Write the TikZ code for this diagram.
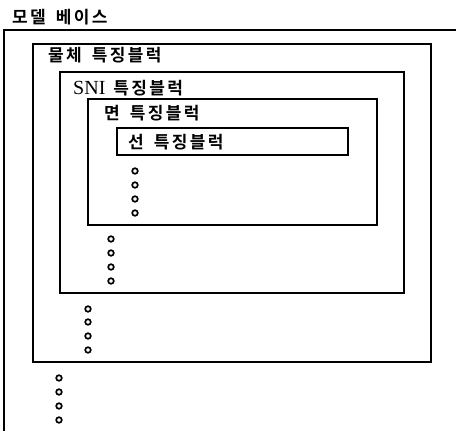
\documentclass[tikz,border=0pt]{standalone}
\usepackage{fontspec}
\setmainfont{Liberation Serif}
\newfontfamily\kr{Noto Sans CJK KR Bold}[LetterSpace=14]
\newcommand\wgap{\hspace{10pt}}
\tikzset{
  box/.style={draw=black, line width=1.3pt},
  lbl/.style={anchor=west, inner sep=0pt, font=\kr\fontsize{17}{17}\selectfont},
  dot/.style={draw=black, line width=1.7pt}
}
\begin{document}
\begin{tikzpicture}[x=1pt,y=-1pt]
\useasboundingbox (0,0) rectangle (456,431);
% outer (model base), cut off at right and bottom
\coordinate (oTR) at (456,30);
\coordinate (oTL) at (4,30);
\coordinate (oBL) at (4,431);
\draw[box] (oTR) -- (oTL) -- (oBL);
\node[lbl] (t0) at (12,17) {모델\wgap 베이스};
% object feature block
\draw[box] (33,44) rectangle (431,362);
\node[lbl] (t1) at (48,55) {물체\wgap 특징블럭};
% SNI feature block
\draw[box] (60,72) rectangle (404,293);
\node[lbl] (t2) at (73,88) {{\rmfamily\fontsize{20}{20}\selectfont SNI}\hspace{8pt}특징블럭};
% face feature block
\draw[box] (88,99) rectangle (377,225);
\node[lbl] (t3) at (104,113) {면\wgap 특징블럭};
% line feature block
\draw[box] (117,128) rectangle (348,155);
\node[lbl] (t4) at (128,142) {선\wgap 특징블럭};
% dots
\foreach \y in {171,185,199,213} \draw[dot] (135,\y) circle (2.8);
\foreach \y in {239,253,267,281} \draw[dot] (111,\y) circle (2.8);
\foreach \y in {309,322,336,350} \draw[dot] (88,\y) circle (2.8);
\foreach \y in {378,392,406,420} \draw[dot] (59,\y) circle (2.8);
\end{tikzpicture}
\end{document}
